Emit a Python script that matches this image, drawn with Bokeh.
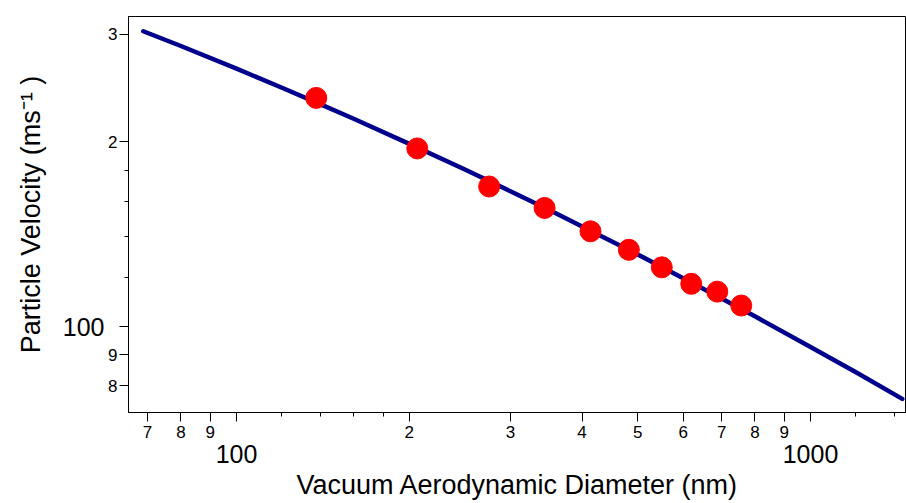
from bokeh.plotting import figure
from bokeh.models import FixedTicker, LogAxis
from bokeh.embed import file_html
from bokeh.resources import INLINE

# ---- data ----
diam_nm = [137.7, 206.5, 275.5, 344.1, 413.7, 482.5, 550.7, 619.8, 687.9, 757.4]
velocity = [236.0, 195.2, 169.2, 156.1, 143.0, 133.4, 124.9, 117.4, 114.0, 108.2]

fit_diam = [68.8, 80, 100, 120, 137.6, 160, 200, 250, 300, 350, 400, 500, 600, 700, 800, 1000, 1200, 1444.8]
fit_vel = [303.1, 286.8, 263.4, 245.2, 232.1, 218.2, 198.6, 180.3, 166.2, 155.0, 145.6, 131.1, 119.9, 111.1, 103.9, 92.6, 84.2, 76.2]

x_ticks = [70, 80, 90, 100, 200, 300, 400, 500, 600, 700, 800, 900, 1000]
x_tick_labels = ["7", "8", "9", "", "2", "3", "4", "5", "6", "7", "8", "9", ""]
x_minor = [120, 140, 160, 180, 1200, 1400]
x_decades = [100, 1000]
x_decade_labels = ["100", "1000"]

y_ticks = [80, 90, 100, 200, 300]
y_tick_labels = ["8", "9", "", "2", "3"]
y_minor = [120, 140, 160, 180]
y_decades = [100]
y_decade_labels = ["100"]

FONT = "Liberation Sans"
W, H = 906, 503

p = figure(width=W, height=H, x_axis_type="log", y_axis_type="log",
           x_range=(64.84, 1469.6), y_range=(72.4, 320.4),
           output_backend="svg", toolbar_location=None,
           min_border_left=128, min_border_right=0,
           min_border_top=16, min_border_bottom=91)

p.background_fill_color = "white"
p.border_fill_color = "white"
p.outline_line_color = "black"
p.outline_line_width = 1
p.xgrid.visible = False
p.ygrid.visible = False

# fitted curve and measured points
p.line(fit_diam, fit_vel, line_color="#00008C", line_width=4.5, line_cap="round", line_join="round")
p.scatter(diam_nm, velocity, size=21, fill_color="#FF0000", line_color="#FF0000")


def style_inner(ax, ticks, labels, minor, standoff):
    ax.ticker = FixedTicker(ticks=ticks, minor_ticks=minor)
    ax.major_label_overrides = {t: l for t, l in zip(ticks, labels)}
    ax.major_tick_out = 9
    ax.major_tick_in = 0
    ax.minor_tick_out = 4
    ax.minor_tick_in = 0
    ax.major_label_standoff = standoff
    ax.major_label_text_font = FONT
    ax.major_label_text_font_size = "17px"
    ax.major_label_text_color = "black"
    ax.axis_line_color = "black"
    ax.major_tick_line_color = "black"
    ax.minor_tick_line_color = "black"


def decade_axis(ticks, labels, standoff, title, title_standoff):
    ax = LogAxis(ticker=FixedTicker(ticks=ticks, minor_ticks=[]),
                 major_label_overrides={t: l for t, l in zip(ticks, labels)})
    ax.axis_line_color = None
    ax.major_tick_line_color = None
    ax.minor_tick_line_color = None
    ax.major_tick_out = 0
    ax.major_tick_in = 0
    ax.minor_tick_out = 0
    ax.minor_tick_in = 0
    ax.major_label_standoff = standoff
    ax.major_label_text_font = FONT
    ax.major_label_text_font_size = "25px"
    ax.major_label_text_color = "black"
    ax.major_label_orientation = "horizontal"
    ax.axis_label = title
    ax.axis_label_text_font = FONT
    ax.axis_label_text_font_size = "27px"
    ax.axis_label_text_font_style = "normal"
    ax.axis_label_text_color = "black"
    ax.axis_label_standoff = title_standoff
    return ax


xa = p.xaxis[0]
style_inner(xa, x_ticks, x_tick_labels, x_minor, 4)
ya = p.yaxis[0]
style_inner(ya, y_ticks, y_tick_labels, y_minor, 2)
ya.major_label_orientation = "horizontal"

p.add_layout(decade_axis(x_decades, x_decade_labels, 4,
                         "Vacuum Aerodynamic Diameter (nm)", 4), "below")
p.add_layout(decade_axis(y_decades, y_decade_labels, 1,
                         "Particle Velocity (ms\u207B\u00B9 )", 14), "left")

open("out.html", "w").write(file_html(p, INLINE))
